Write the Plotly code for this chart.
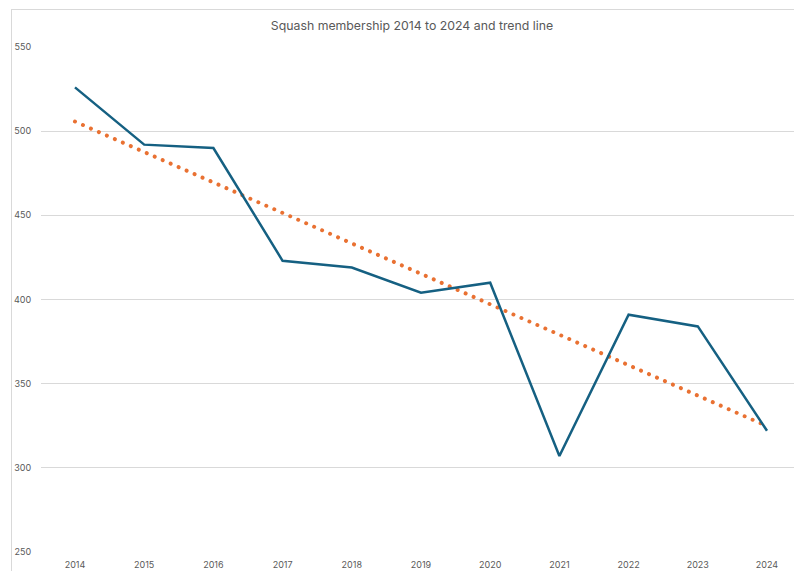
import numpy as np
import plotly.graph_objects as go

years = ["2014", "2015", "2016", "2017", "2018", "2019", "2020", "2021", "2022", "2023", "2024"]
membership = [526, 492, 490, 423, 419, 404, 410, 307, 391, 384, 322]
y_ticks = [250, 300, 350, 400, 450, 500, 550]

# Linear trend line (least squares) from the membership data
idx = np.arange(len(years))
slope, intercept = np.polyfit(idx, membership, 1)
trend = list(intercept + slope * idx)

fig = go.Figure()
fig.add_trace(go.Scatter(
    x=years, y=trend, mode="lines",
    line=dict(color="#E97132", width=4, dash="4px,4.7px"),
    hoverinfo="skip", showlegend=False,
))
fig.add_trace(go.Scatter(
    x=years, y=membership, mode="lines",
    line=dict(color="#156082", width=2.5),
    showlegend=False,
))

W, H = 794, 571
L, R, T, B = 41, 0, 47, 19
pw, ph = W - L - R, H - T - B

fig.update_layout(
    width=W, height=H,
    margin=dict(l=L, r=R, t=T, b=B),
    paper_bgcolor="white", plot_bgcolor="white",
    font=dict(family="Inter, Noto Sans, sans-serif", color="#595959"),
    title=dict(
        text="Squash membership 2014 to 2024 and trend line",
        x=(412) / W, xanchor="center", y=1 - 26 / H, yanchor="middle",
        font=dict(size=12.3, color="#595959"),
    ),
    xaxis=dict(
        type="category", range=[-0.491, 10.39],
        showgrid=False, zeroline=False, showline=False,
        tickfont=dict(size=9, color="#595959"),
        ticks="outside", ticklen=4, tickcolor="rgba(0,0,0,0)",
    ),
    yaxis=dict(
        range=[250, 550], tickvals=y_ticks,
        showgrid=True, gridcolor="#D9D9D9", gridwidth=1,
        zeroline=False, showline=False,
        tickfont=dict(size=9, color="#595959"),
        ticks="outside", ticklen=7, tickcolor="rgba(0,0,0,0)",
    ),
    shapes=[
        dict(type="line", xref="paper", yref="paper",
             x0=(11 - L) / pw, x1=1.05, y0=(H - B - 9.5) / ph, y1=(H - B - 9.5) / ph,
             line=dict(color="#D9D9D9", width=1)),
        dict(type="line", xref="paper", yref="paper",
             x0=(11.5 - L) / pw, x1=(11.5 - L) / pw, y0=-0.1, y1=(H - B - 9.5) / ph,
             line=dict(color="#D9D9D9", width=1)),
    ],
)

post = """
document.body.style.margin='0';
document.body.style.overflow='hidden';
var tl = document.querySelector('.scatterlayer .trace path.js-line');
if (tl) { tl.style.strokeLinecap='round'; tl.style.strokeDasharray='0.01px,8.7px'; }
"""

fig.write_html("out.html", config={"displayModeBar": False}, post_script=post)
